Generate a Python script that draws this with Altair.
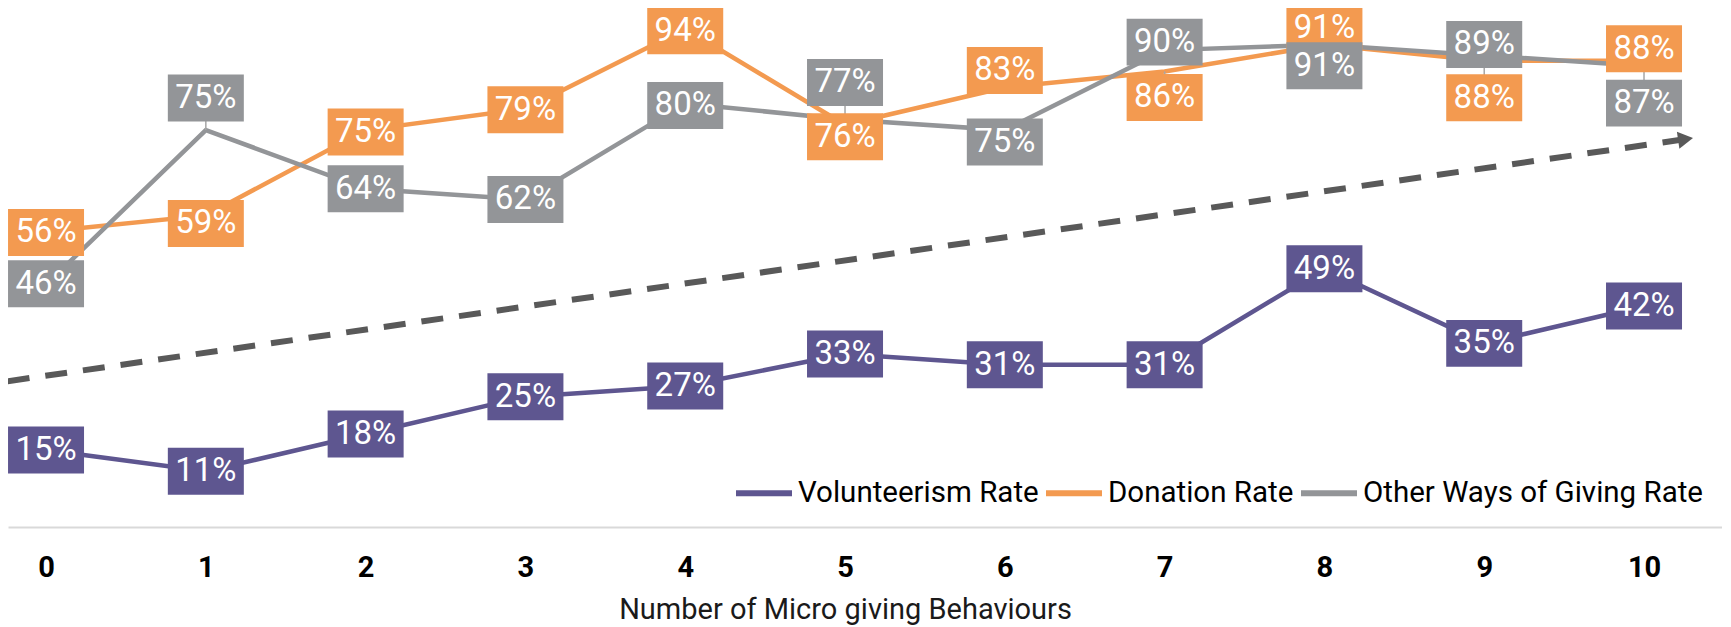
import altair as alt
import pandas as pd

# ---- data ----
behaviours = list(range(11))
series_names = ["Volunteerism Rate", "Donation Rate", "Other Ways of Giving Rate"]
volunteerism = [15, 11, 18, 25, 27, 33, 31, 31, 49, 35, 42]
donation = [56, 59, 75, 79, 94, 76, 83, 86, 91, 88, 88]
other_ways = [46, 75, 64, 62, 80, 77, 75, 90, 91, 89, 87]
tick_values = list(range(11))

# label box shifts (pixels, positive = down) to avoid overlaps
volunteerism_label_dy = [0, 0, 0, 0, 0, 0, 0, 0, 0, 0, 0]
donation_label_dy = [1, 8, 2, 1, 2, 12, -17, 26, -17, 37, -12]
other_label_dy = [-1, -32, 0, 0, 2, -37, 12, -8, 21, -11, 37]

colors = ["#5E5690", "#F39A50", "#939598"]

# trend arrow (annotation) in data units
trend_x = [-0.24, 10.26]
trend_y = [27.9, 73.3]

# ---- layout ----
W, H = 1714, 519
x_domain = [-0.238, 10.488]
y_domain = [0.56, 97.9]
px_per_unit = H / (y_domain[1] - y_domain[0])

rows = []
for name, vals, dys in zip(series_names,
                           [volunteerism, donation, other_ways],
                           [volunteerism_label_dy, donation_label_dy, other_label_dy]):
    for b, v, d in zip(behaviours, vals, dys):
        rows.append({"series": name, "behaviours": b, "value": v,
                     "label": f"{v}%", "label_y": v - d / px_per_unit})
df = pd.DataFrame(rows)
trend_df = pd.DataFrame({"x": trend_x, "y": trend_y})

xscale = alt.Scale(domain=x_domain, nice=False, zero=False)
yscale = alt.Scale(domain=y_domain, nice=False, zero=False)
cscale = alt.Scale(domain=series_names, range=colors)

xaxis = alt.Axis(values=tick_values, format="d", grid=False, ticks=False, tickSize=0,
                 labelFont="Roboto", labelFontSize=29, labelFontWeight="bold",
                 labelColor="#000000", labelPadding=26,
                 domainColor="#D9D9D9", domainWidth=2,
                 title="Number of Micro giving Behaviours", titleFont="Roboto",
                 titleFontSize=29, titleFontWeight="normal", titleColor="#1a1a1a",
                 titlePadding=13, titleX=837, titleAlign="center")

base = alt.Chart(df)

trend = alt.Chart(trend_df).mark_line(color="#595959", strokeWidth=6,
                                      strokeDash=[22, 16], strokeCap="butt").encode(
    x=alt.X("x:Q", scale=xscale, axis=xaxis),
    y=alt.Y("y:Q", scale=yscale, axis=None),
)
arrow = alt.Chart(trend_df.tail(1)).mark_point(shape="triangle-right", filled=True,
                                               size=300, angle=351.8, color="#595959",
                                               opacity=1).encode(
    x=alt.X("x:Q", scale=xscale),
    y=alt.Y("y:Q", scale=yscale),
)

lines = base.mark_line(strokeWidth=4.5).encode(
    x=alt.X("behaviours:Q", scale=xscale),
    y=alt.Y("value:Q", scale=yscale),
    color=alt.Color("series:N", scale=cscale, sort=series_names,
                    legend=alt.Legend(title=None, orient="none", direction="horizontal",
                                      legendX=725, legendY=454,
                                      symbolType="stroke", symbolSize=3136,
                                      symbolStrokeWidth=6, labelFont="Roboto",
                                      labelFontSize=29.5, labelColor="#000000",
                                      labelOffset=3, columnPadding=-5, labelLimit=600,
                                      padding=0)),
)

leaders = base.mark_rule(color="#A6A6A6", strokeWidth=1.5).encode(
    x=alt.X("behaviours:Q", scale=xscale),
    y=alt.Y("value:Q", scale=yscale),
    y2="label_y:Q",
)

boxes = base.mark_point(shape="M-1,-0.618L1,-0.618L1,0.618L-1,0.618Z", filled=True,
                        size=5776, opacity=1, strokeWidth=0).encode(
    x=alt.X("behaviours:Q", scale=xscale),
    y=alt.Y("label_y:Q", scale=yscale),
    color=alt.Color("series:N", scale=cscale, legend=None),
)

texts = base.mark_text(color="white", font="Roboto", fontSize=33,
                       align="center", baseline="middle").encode(
    x=alt.X("behaviours:Q", scale=xscale),
    y=alt.Y("label_y:Q", scale=yscale),
    text="label:N",
)

chart = alt.layer(trend, arrow, lines, leaders, boxes, texts).properties(
    width=W, height=H,
    padding={"left": 0, "top": 0, "right": 0, "bottom": 100},
    autosize=alt.AutoSizeParams(type="none"),
).configure(background="white").configure_view(stroke=None, strokeWidth=0)

chart.save("out.html", embed_options={"renderer": "svg", "actions": False})
